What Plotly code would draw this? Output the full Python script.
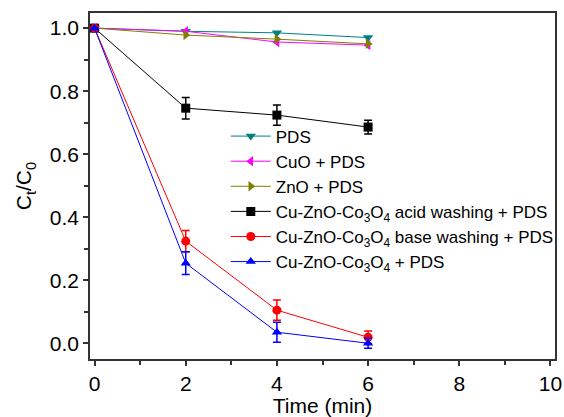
import plotly.graph_objects as go

time_min = [0, 2, 4, 6]

pds = [1.0, 0.990, 0.985, 0.970]
cuo_pds = [1.0, 0.990, 0.956, 0.946]
zno_pds = [1.0, 0.978, 0.965, 0.950]
acid_wash = [1.0, 0.746, 0.724, 0.686]
acid_err = [0.0, 0.034, 0.032, 0.022]
base_wash = [1.0, 0.324, 0.105, 0.019]
base_err = [0.0, 0.034, 0.032, 0.020]
cat_pds = [1.0, 0.254, 0.035, 0.0]
cat_err = [0.0, 0.036, 0.032, 0.016]

x_ticks = [0, 2, 4, 6, 8, 10]
y_ticks = [0.0, 0.2, 0.4, 0.6, 0.8, 1.0]

series = [
    ("PDS", pds, None, "#008080", "triangle-down"),
    ("CuO + PDS", cuo_pds, None, "#FF00FF", "triangle-left"),
    ("ZnO + PDS", zno_pds, None, "#808000", "triangle-right"),
    ("Cu-ZnO-Co<sub>3</sub>O<sub>4</sub> acid washing + PDS", acid_wash, acid_err, "#000000", "square"),
    ("Cu-ZnO-Co<sub>3</sub>O<sub>4</sub> base washing + PDS", base_wash, base_err, "#FF0000", "circle"),
    ("Cu-ZnO-Co<sub>3</sub>O<sub>4</sub> + PDS", cat_pds, cat_err, "#0000FF", "triangle-up"),
]

FONT = "Liberation Sans, Arial"

fig = go.Figure()
for name, vals, err, color, symbol in series:
    fig.add_trace(go.Scatter(
        x=time_min, y=vals, name=name, mode="lines+markers",
        line=dict(color=color, width=1),
        marker=dict(color=color, symbol=symbol, size=9),
        error_y=dict(type="data", array=err, color=color, thickness=1.5, width=4,
                     visible=err is not None),
    ))

axis_common = dict(
    showline=True, linecolor="#333333", linewidth=1.5, mirror=True,
    ticks="outside", ticklen=5, tickwidth=1.5, tickcolor="#333333",
    showgrid=False, zeroline=False, automargin=False,
    tickfont=dict(family=FONT, size=21, color="black"),
)

fig.update_xaxes(
    range=[-0.1, 10.1], tickvals=x_ticks,
    minor=dict(dtick=1, ticks="outside", ticklen=4, tickwidth=1.5, tickcolor="#333333"),
    title=dict(text="Time (min)", font=dict(family=FONT, size=21, color="black"),
               standoff=0),
    **axis_common,
)
fig.update_yaxes(
    range=[-0.05, 1.048], tickvals=y_ticks, tickformat=".1f",
    minor=dict(dtick=0.1, ticks="outside", ticklen=4, tickwidth=1.5, tickcolor="#333333"),
    title=dict(text="C<sub>t</sub>/C<sub>0</sub>", font=dict(family=FONT, size=21, color="black"),
               standoff=12),
    **axis_common,
)

fig.update_layout(
    width=564, height=417,
    margin=dict(l=90, r=9, t=13, b=58, autoexpand=False),
    paper_bgcolor="white", plot_bgcolor="white",
    showlegend=True,
    legend=dict(x=0.292, y=0.695, xanchor="left", yanchor="top",
                bgcolor="rgba(0,0,0,0)", tracegroupgap=0, itemwidth=40,
                font=dict(family=FONT, size=17, color="black")),
)

fig.write_html("out.html")
